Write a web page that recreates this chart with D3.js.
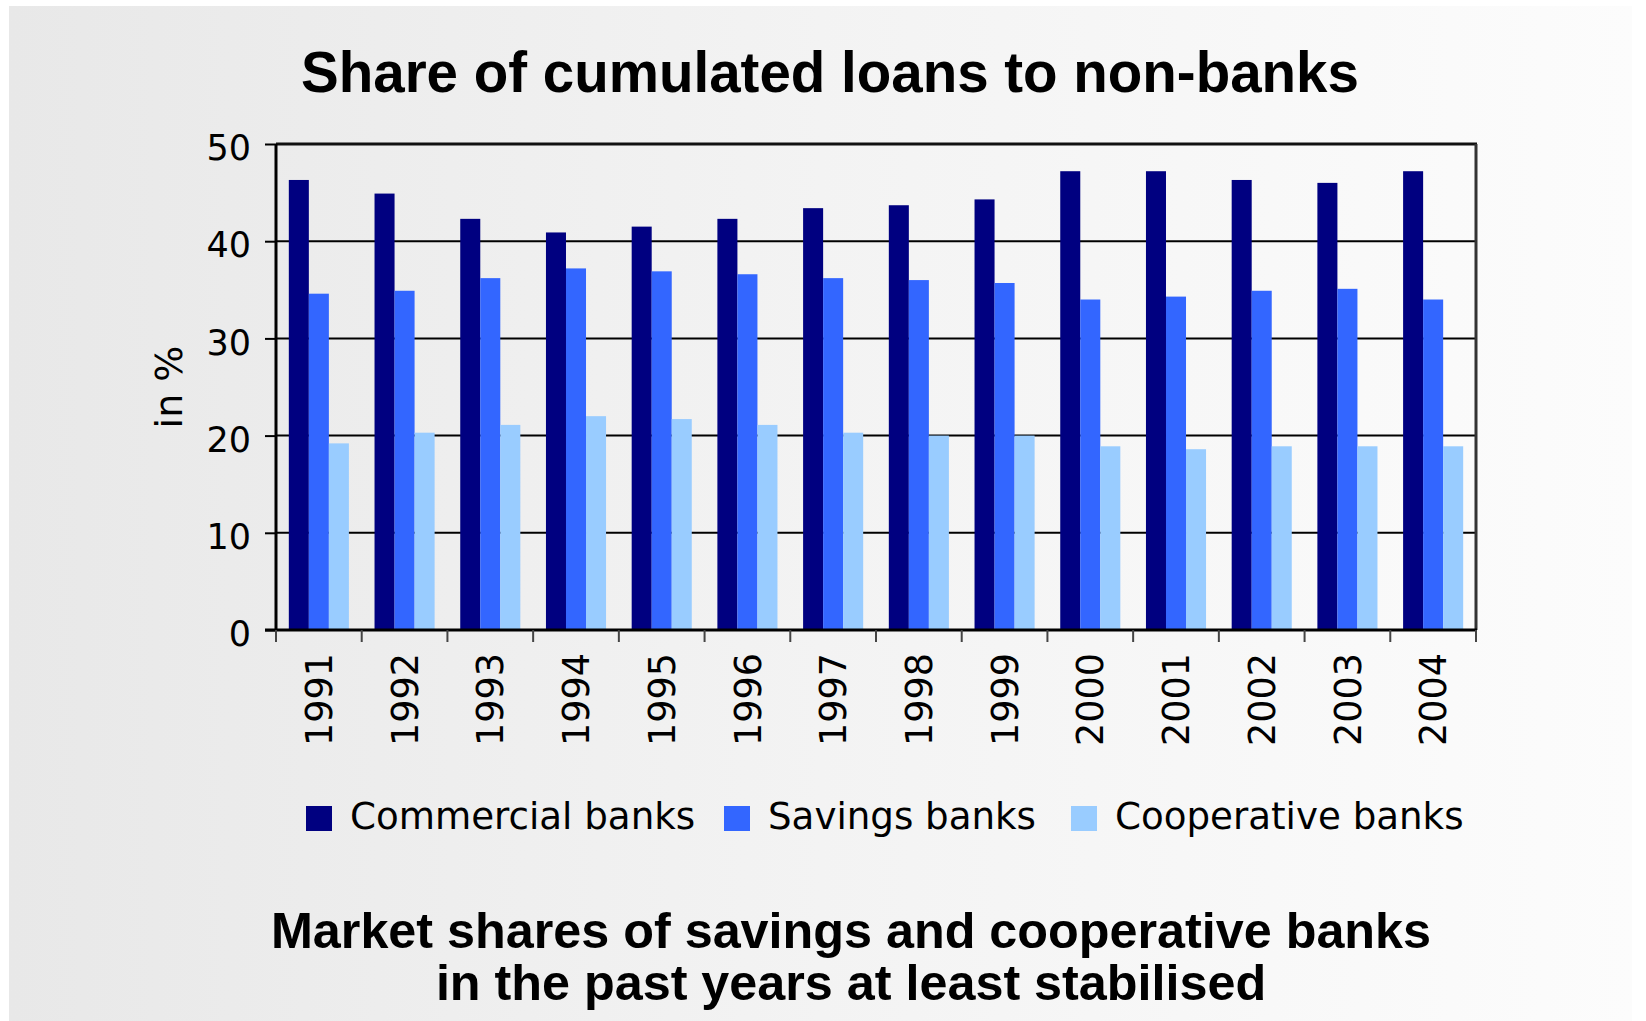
<!DOCTYPE html>
<html>
<head>
<meta charset="utf-8">
<script src="https://cdn.jsdelivr.net/npm/d3@7"></script>
<style>
  html, body { margin: 0; padding: 0; background: #ffffff; }
  svg { display: block; }
</style>
</head>
<body>
<svg id="chart" width="1646" height="1021"></svg>
<script>
// Years on the category axis
const years = ["1991", "1992", "1993", "1994", "1995", "1996", "1997",
               "1998", "1999", "2000", "2001", "2002", "2003", "2004"];

// Share of cumulated loans to non-banks, in %
const commercialBanks  = [46.3, 44.9, 42.3, 40.9, 41.5, 42.3, 43.4, 43.7, 44.3, 47.2, 47.2, 46.3, 46.0, 47.2];
const savingsBanks     = [34.6, 34.9, 36.2, 37.2, 36.9, 36.6, 36.2, 36.0, 35.7, 34.0, 34.3, 34.9, 35.1, 34.0];
const cooperativeBanks = [19.2, 20.3, 21.1, 22.0, 21.7, 21.1, 20.3, 20.0, 20.0, 18.9, 18.6, 18.9, 18.9, 18.9];

const seriesNames = ["Commercial banks", "Savings banks", "Cooperative banks"];
const seriesColors = ["#000080", "#3366ff", "#99ccff"];
const yTicks = [0, 10, 20, 30, 40, 50];

const title = "Share of cumulated loans to non-banks";
const yLabel = "in %";
const subtitle = ["Market shares of savings and cooperative banks",
                  "in the past years at least stabilised"];

const series = [commercialBanks, savingsBanks, cooperativeBanks];

const svg = d3.select("#chart");
const W = 1646, H = 1021;

// Background panel with a soft left-to-right grey gradient
const defs = svg.append("defs");
const grad = defs.append("linearGradient").attr("id", "bg")
  .attr("x1", "0%").attr("x2", "100%").attr("y1", "0%").attr("y2", "0%");
grad.append("stop").attr("offset", "0%").attr("stop-color", "#e8e8e8");
grad.append("stop").attr("offset", "50%").attr("stop-color", "#f3f3f3");
grad.append("stop").attr("offset", "100%").attr("stop-color", "#fcfcfc");

svg.append("rect").attr("x", 0).attr("y", 0).attr("width", W).attr("height", H).attr("fill", "#ffffff");
svg.append("rect").attr("x", 9).attr("y", 6).attr("width", 1623).attr("height", H - 6).attr("fill", "url(#bg)");

const plot = { left: 276, right: 1476, top: 144, bottom: 630 };

const x = d3.scaleBand().domain(years).range([plot.left, plot.right]).padding(0);
const xi = d3.scaleBand().domain(d3.range(series.length)).range([0, x.bandwidth()])
  .paddingInner(0).paddingOuter(0.64);
const y = d3.scaleLinear().domain([0, 50]).range([plot.bottom, plot.top]);

const font = "'DejaVu Sans', Verdana, sans-serif";
const boldFont = "'Liberation Sans', Arial, sans-serif";

// Horizontal gridlines
svg.append("g").selectAll("line").data(yTicks.filter(d => d > 0)).join("line")
  .attr("x1", plot.left).attr("x2", plot.right)
  .attr("y1", d => y(d)).attr("y2", d => y(d))
  .attr("stroke", "#000").attr("stroke-width", 2);

// Bars
const groups = svg.append("g").selectAll("g").data(years).join("g")
  .attr("transform", d => `translate(${x(d)},0)`);
groups.selectAll("rect")
  .data((d, i) => series.map((s, k) => ({ k, v: s[i] })))
  .join("rect")
  .attr("x", d => xi(d.k))
  .attr("width", xi.bandwidth())
  .attr("y", d => y(d.v))
  .attr("height", d => y(0) - y(d.v))
  .attr("fill", d => seriesColors[d.k]);

// Plot frame: top and right borders
svg.append("line").attr("x1", plot.left).attr("x2", plot.right + 1)
  .attr("y1", plot.top).attr("y2", plot.top).attr("stroke", "#111").attr("stroke-width", 3);
svg.append("line").attr("x1", plot.right).attr("x2", plot.right)
  .attr("y1", plot.top).attr("y2", plot.bottom).attr("stroke", "#333").attr("stroke-width", 3);

// Y axis
const yAxis = svg.append("g").attr("transform", `translate(${plot.left},0)`)
  .call(d3.axisLeft(y).tickValues(yTicks).tickSize(11).tickPadding(14));
yAxis.select(".domain").attr("stroke", "#000").attr("stroke-width", 3)
  .attr("d", `M0,${plot.top}V${plot.bottom}`);
yAxis.selectAll(".tick line").attr("stroke", "#000").attr("stroke-width", 2);
yAxis.selectAll(".tick text")
  .attr("font-family", font).attr("font-size", 35).attr("fill", "#000").attr("dy", "0.45em");

// X axis with boundary ticks between categories
const xAxis = svg.append("g").attr("transform", `translate(0,${plot.bottom})`);
xAxis.append("line").attr("x1", plot.left - 11).attr("x2", plot.right + 1)
  .attr("y1", 0).attr("y2", 0).attr("stroke", "#000").attr("stroke-width", 3);
const boundaries = years.map(d => x(d)).concat([x(years[years.length - 1]) + x.bandwidth()]);
xAxis.selectAll("line.tick").data(boundaries).join("line").attr("class", "tick")
  .attr("x1", d => d).attr("x2", d => d).attr("y1", 0).attr("y2", 12)
  .attr("stroke", "#444").attr("stroke-width", 2);
xAxis.selectAll("text").data(years).join("text")
  .attr("transform", d => `translate(${x(d) + x.bandwidth() / 2},23) rotate(-90)`)
  .attr("text-anchor", "end").attr("dy", "0.36em")
  .attr("font-family", font).attr("font-size", 36.5).attr("fill", "#000")
  .text(d => d);

// Y axis label
svg.append("text")
  .attr("transform", `translate(182,${(plot.top + plot.bottom) / 2}) rotate(-90)`)
  .attr("text-anchor", "middle")
  .attr("font-family", font).attr("font-size", 38).attr("fill", "#000")
  .text(yLabel);

// Title
svg.append("text").attr("x", 830).attr("y", 92).attr("text-anchor", "middle")
  .attr("font-family", boldFont).attr("font-weight", "bold").attr("font-size", 56.5)
  .attr("fill", "#000").text(title);

// Legend
const legendX = [306, 724, 1071];
const legend = svg.append("g").selectAll("g").data(seriesNames).join("g")
  .attr("transform", (d, i) => `translate(${legendX[i]},806)`);
legend.append("rect").attr("width", 26).attr("height", 25)
  .attr("fill", (d, i) => seriesColors[i]);
legend.append("text").attr("x", 44).attr("y", 23)
  .attr("font-family", font).attr("font-size", 37.2).attr("fill", "#000")
  .text(d => d);

// Subtitle
svg.append("g").selectAll("text").data(subtitle).join("text")
  .attr("x", 851).attr("y", (d, i) => 948 + i * 52).attr("text-anchor", "middle")
  .attr("font-family", boldFont).attr("font-weight", "bold").attr("font-size", 50.3)
  .attr("fill", "#000").text(d => d);
</script>
</body>
</html>
